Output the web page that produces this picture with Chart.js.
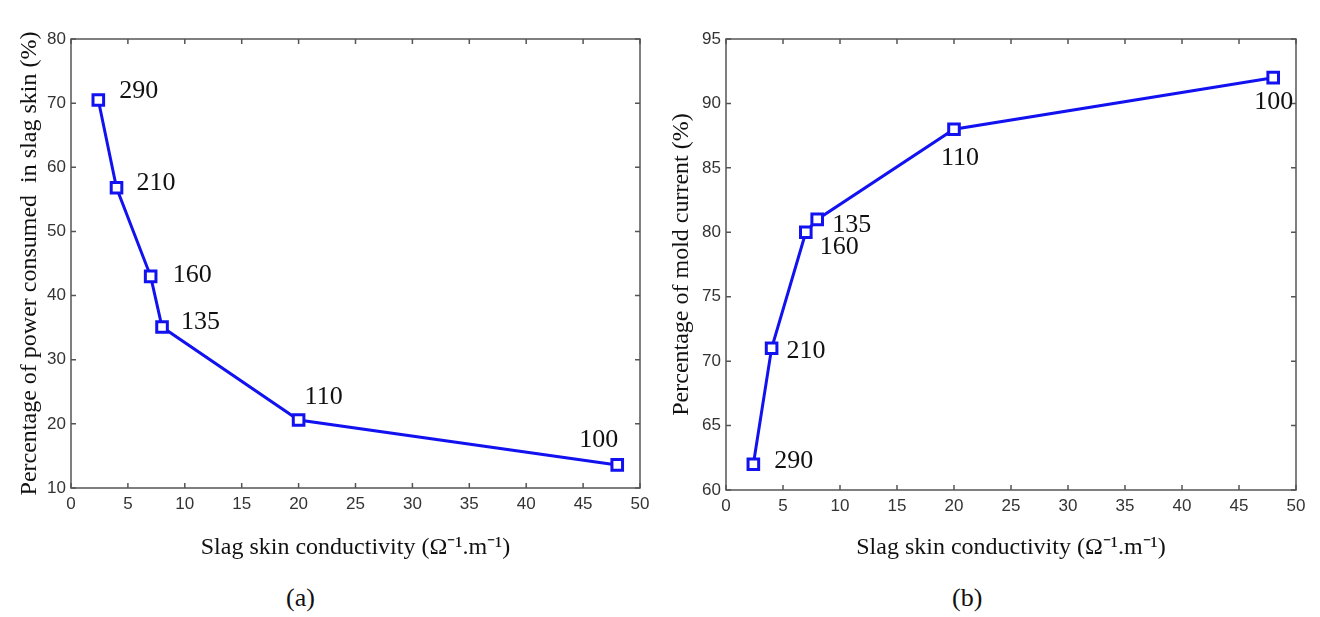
<!DOCTYPE html>
<html>
<head>
<meta charset="utf-8">
<script src="https://cdn.jsdelivr.net/npm/chart.js@4"></script>
<style>
  html,body{margin:0;padding:0;background:#fff;}
  #wrap{position:relative;width:1320px;height:617px;overflow:hidden;}
  .panel{position:absolute;top:0;width:660px;height:565px;}
  .cap{position:absolute;top:583px;font:26px "Liberation Serif",serif;color:#111;}
</style>
</head>
<body>
<div id="wrap">
  <div class="panel" style="left:0"><canvas id="chartA" width="660" height="565"></canvas></div>
  <div class="panel" style="left:660px"><canvas id="chartB" width="660" height="565"></canvas></div>
  <div class="cap" style="left:286px">(a)</div>
  <div class="cap" style="left:952px">(b)</div>
</div>
<script>
/* ===== Data ===== */
const conductivity = [2.4, 4, 7, 8, 20, 48];
const powerShare   = [70.5, 56.8, 43, 35.1, 20.6, 13.6];
const moldCurrent  = [62, 71, 80, 81, 88, 92];
const pointLabels  = ["290","210","160","135","110","100"];

const xRange      = [0, 50, 5];   // min, max, step
const powerRange  = [10, 80, 10];
const moldRange   = [60, 95, 5];

/* ===== Styling ===== */
const BLUE = "rgb(18,18,240)";
const BOX  = "#555";
const TICK_FONT = {family:"Liberation Sans", size:17};
const TITLE_FONT = {family:"Liberation Serif", size:24};

/* box + inward ticks + point labels */
const boxPlugin = {
  id:"box",
  afterDatasetsDraw(chart, args, opts){
    const {ctx, chartArea:a, scales:{x,y}} = chart;
    ctx.save();
    ctx.strokeStyle = BOX;
    ctx.lineWidth = 1.5;
    ctx.strokeRect(a.left, a.top, a.right-a.left, a.bottom-a.top);
    ctx.beginPath();
    x.ticks.forEach(t=>{
      const px = x.getPixelForValue(t.value);
      ctx.moveTo(px, a.bottom); ctx.lineTo(px, a.bottom-5);
      ctx.moveTo(px, a.top);    ctx.lineTo(px, a.top+5);
    });
    y.ticks.forEach(t=>{
      const py = y.getPixelForValue(t.value);
      ctx.moveTo(a.left, py);  ctx.lineTo(a.left+5, py);
      ctx.moveTo(a.right, py); ctx.lineTo(a.right-5, py);
    });
    ctx.stroke();

    ctx.font = '26px "Liberation Serif"';
    ctx.fillStyle = "#111";
    ctx.textAlign = "left";
    ctx.textBaseline = "middle";
    chart.getDatasetMeta(0).data.forEach((pt,i)=>{
      const [dx,dy] = opts.offsets[i];
      ctx.fillText(pointLabels[i], pt.x+dx, pt.y+dy);
    });
    ctx.restore();
  }
};

function makeChart(id, values, yRange, yTitle, geo, offsets){
  return new Chart(document.getElementById(id), {
    type:"scatter",
    data:{
      datasets:[{
        data:conductivity.map((c,i)=>({x:c, y:values[i]})),
        showLine:true,
        borderColor:BLUE,
        borderWidth:3,
        pointStyle:"rect",
        pointRadius:7.5,
        pointBorderWidth:3,
        pointBorderColor:BLUE,
        pointBackgroundColor:"#fff"
      }]
    },
    options:{
      responsive:false,
      animation:false,
      layout:{padding:{top:geo.top, right:geo.right, left:0, bottom:0}},
      plugins:{legend:{display:false}, tooltip:{enabled:false}, box:{offsets}},
      scales:{
        x:{
          type:"linear", min:xRange[0], max:xRange[1],
          ticks:{stepSize:xRange[2], color:"#333", font:TICK_FONT, padding:6, maxRotation:0},
          grid:{display:false, drawTicks:false},
          border:{display:false},
          title:{display:true, text:"Slag skin conductivity (Ω⁻¹.m⁻¹)", color:"#111", font:TITLE_FONT, padding:{top:0,bottom:3}},
          afterFit(s){ s.height = geo.xh; }
        },
        y:{
          type:"linear", min:yRange[0], max:yRange[1],
          ticks:{stepSize:yRange[2], color:"#333", font:TICK_FONT, padding:5},
          grid:{display:false, drawTicks:false},
          border:{display:false},
          title:{display:true, text:yTitle, color:"#111", font:TITLE_FONT, padding:{top:geo.yt,bottom:0}},
          afterFit(s){ s.width = geo.yw; }
        }
      }
    },
    plugins:[boxPlugin]
  });
}

makeChart("chartA", powerShare, powerRange,
  "Percentage of power consumed  in slag skin (%)",
  {top:39, right:20, xh:77, yw:71, yt:15},
  [[21,-9],[20,-5],[22,-1],[19,-5],[6,-23],[-38,-25]]);

makeChart("chartB", moldCurrent, moldRange,
  "Percentage of mold current (%)",
  {top:39, right:24, xh:75, yw:66, yt:7},
  [[21,-3],[15,3],[14,15],[15,6],[-13,29],[-19,25]]);
</script>
</body>
</html>
